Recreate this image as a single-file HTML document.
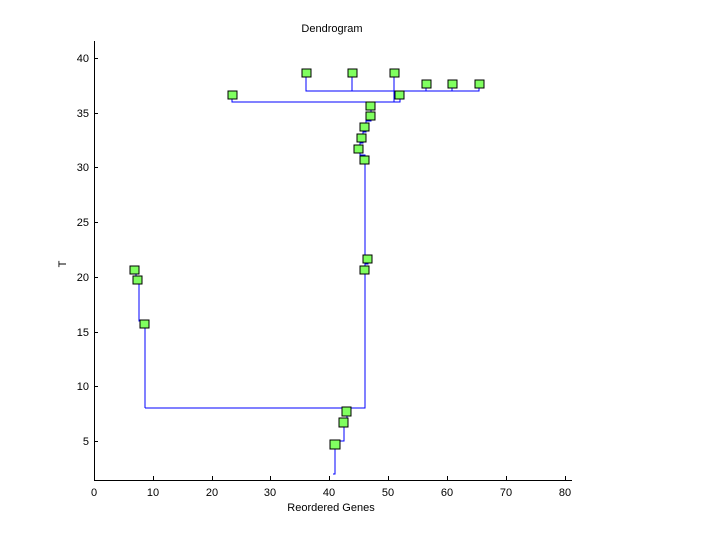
<!DOCTYPE html>
<html><head><meta charset="utf-8"><style>
html,body{margin:0;padding:0;background:#fff}
svg{display:block}
text{font-family:"Liberation Sans",sans-serif;font-size:11px;fill:#000}
</style></head><body>
<svg width="720" height="540" viewBox="0 0 720 540">
<rect width="720" height="540" fill="#fff"/>
<g stroke="#0000ff" stroke-width="1.3" fill="none" shape-rendering="crispEdges">
<polyline points="333,474 335,474 335,441 344,441 344,418 347,418 347,410"/>
<polyline points="145,408 365,408 365,155 360,155 360,143 363,143 363,132 366,132 366,121 371,121 371,102"/>
<polyline points="145,408 145,321 139,321 139,277 136,277 136,270"/>
<polyline points="365,270 365,264 368,264 368,259"/>
<polyline points="232,95 232,102 400,102 400,95"/>
<polyline points="394,102 394,91"/>
<polyline points="306,73 306,91 479,91 479,84"/>
<line x1="352" y1="73" x2="352" y2="91"/>
<line x1="394" y1="73" x2="394" y2="91"/>
<line x1="426" y1="84" x2="426" y2="91"/>
<line x1="452" y1="84" x2="452" y2="91"/>
</g>
<g fill="#80ff60" stroke="#000" stroke-width="1.3" shape-rendering="crispEdges">
<rect x="330" y="440" width="10" height="9"/>
<rect x="339" y="418" width="9" height="9"/>
<rect x="342" y="407" width="9" height="9"/>
<rect x="140" y="320" width="9" height="8"/>
<rect x="133" y="276" width="9" height="8"/>
<rect x="130" y="266" width="9" height="8"/>
<rect x="360" y="266" width="9" height="8"/>
<rect x="363" y="255" width="9" height="8"/>
<rect x="360" y="156" width="9" height="8"/>
<rect x="354" y="145" width="9" height="8"/>
<rect x="357" y="134" width="9" height="8"/>
<rect x="360" y="123" width="9" height="8"/>
<rect x="366" y="112" width="9" height="8"/>
<rect x="366" y="102" width="9" height="8"/>
<rect x="395" y="91" width="9" height="8"/>
<rect x="228" y="91" width="9" height="8"/>
<rect x="302" y="69" width="9" height="8"/>
<rect x="348" y="69" width="9" height="8"/>
<rect x="390" y="69" width="9" height="8"/>
<rect x="422" y="80" width="9" height="8"/>
<rect x="448" y="80" width="9" height="8"/>
<rect x="475" y="80" width="9" height="8"/>
</g>
<g stroke="#000" stroke-width="1" shape-rendering="crispEdges">
<line x1="94.5" y1="41" x2="94.5" y2="480"/>
<line x1="94" y1="480.5" x2="572" y2="480.5"/>
<line x1="94" y1="58.5" x2="98" y2="58.5"/>
<line x1="94" y1="113.5" x2="98" y2="113.5"/>
<line x1="94" y1="167.5" x2="98" y2="167.5"/>
<line x1="94" y1="222.5" x2="98" y2="222.5"/>
<line x1="94" y1="277.5" x2="98" y2="277.5"/>
<line x1="94" y1="332.5" x2="98" y2="332.5"/>
<line x1="94" y1="386.5" x2="98" y2="386.5"/>
<line x1="94" y1="441.5" x2="98" y2="441.5"/>
<line x1="153.5" y1="476" x2="153.5" y2="480"/>
<line x1="212.5" y1="476" x2="212.5" y2="480"/>
<line x1="270.5" y1="476" x2="270.5" y2="480"/>
<line x1="329.5" y1="476" x2="329.5" y2="480"/>
<line x1="388.5" y1="476" x2="388.5" y2="480"/>
<line x1="447.5" y1="476" x2="447.5" y2="480"/>
<line x1="506.5" y1="476" x2="506.5" y2="480"/>
<line x1="565.5" y1="476" x2="565.5" y2="480"/>
</g>
<g text-anchor="end">
<text x="89" y="62">40</text><text x="89" y="117">35</text><text x="89" y="171">30</text>
<text x="89" y="226">25</text><text x="89" y="281">20</text><text x="89" y="336">15</text>
<text x="89" y="390">10</text><text x="89" y="445">5</text>
</g>
<g text-anchor="middle">
<text x="94" y="496">0</text><text x="153" y="496">10</text><text x="212" y="496">20</text>
<text x="270" y="496">30</text><text x="329" y="496">40</text><text x="388" y="496">50</text>
<text x="447" y="496">60</text><text x="506" y="496">70</text><text x="565" y="496">80</text>
<text x="331" y="511">Reordered Genes</text>
<text x="332" y="32">Dendrogram</text>
<text x="66" y="264" transform="rotate(-90 66 264)">T</text>
</g>
</svg>
</body></html>
